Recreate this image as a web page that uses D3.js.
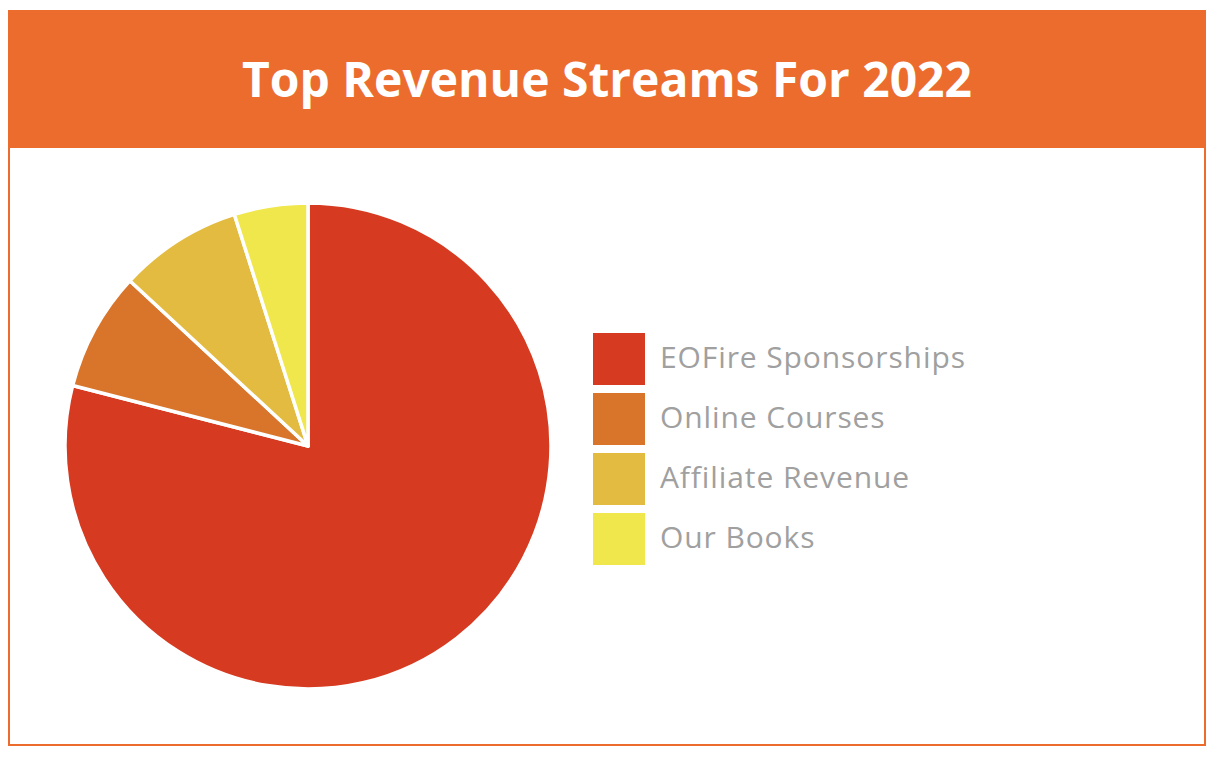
<!DOCTYPE html>
<html>
<head>
<meta charset="utf-8">
<script src="https://cdn.jsdelivr.net/npm/d3@7"></script>
<style>
  body { margin: 0; background: #fff; }
  text { font-family: "Open Sans", sans-serif; }
</style>
</head>
<body>
<div id="chart"></div>
<script>
// data
var categories = ["EOFire Sponsorships", "Online Courses", "Affiliate Revenue", "Our Books"];
var values = [79, 7.9, 8.2, 4.9];
var colors = ["#d63a20", "#d9742b", "#e2bb40", "#efe74c"];
var title = "Top Revenue Streams For 2022";

function init() {
	var w = 1220, h = 758;
	var svg = d3.select("#chart").append("svg")
		.attr("width", w).attr("height", h);

	// frame + header
	svg.append("rect")
		.attr("x", 9).attr("y", 11).attr("width", 1196).attr("height", 734)
		.attr("fill", "#fff").attr("stroke", "#ec6c2e").attr("stroke-width", 2);
	svg.append("rect")
		.attr("x", 8).attr("y", 10).attr("width", 1198).attr("height", 138)
		.attr("fill", "#ec6c2e");
	svg.append("text")
		.attr("x", 607).attr("y", 97)
		.attr("text-anchor", "middle")
		.attr("fill", "#fff")
		.attr("font-size", 48)
		.attr("font-weight", 700)
		.text(title);

	// pie
	var data = categories.map(function(c, i) { return { name: c, value: values[i] }; });
	var color = d3.scaleOrdinal().domain(categories).range(colors);
	var pie = d3.pie().sort(null).value(function(d) { return d.value; });
	var arc = d3.arc().innerRadius(0).outerRadius(243);

	var g = svg.append("g").attr("transform", "translate(308,446)");
	g.selectAll("path")
		.data(pie(data))
		.enter()
		.append("path")
		.attr("d", arc)
		.attr("fill", function(d) { return color(d.data.name); })
		.attr("stroke", "#fff")
		.attr("stroke-width", 3.5)
		.attr("stroke-linejoin", "round");

	// legend
	var legend = svg.append("g").attr("transform", "translate(593,333)");
	var item = legend.selectAll("g")
		.data(categories)
		.enter()
		.append("g")
		.attr("transform", function(d, i) { return "translate(0," + (i * 60) + ")"; });
	item.append("rect")
		.attr("width", 52).attr("height", 52)
		.attr("fill", function(d) { return color(d); });
	item.append("text")
		.attr("x", 67).attr("y", 35)
		.attr("font-size", 30)
		.attr("letter-spacing", 0.9)
		.attr("fill", "#a0a0a0")
		.text(function(d) { return d; });
}

window.onload = init;
</script>
</body>
</html>
